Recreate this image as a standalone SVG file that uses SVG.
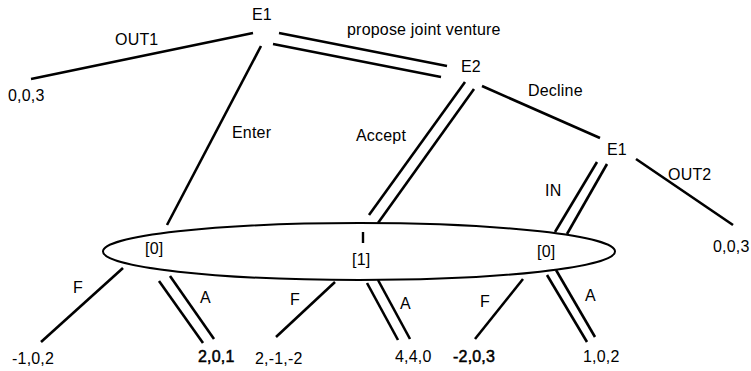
<svg xmlns="http://www.w3.org/2000/svg" width="751" height="371" viewBox="0 0 751 371">
<style>
text{font-family:"Liberation Sans",Arial,sans-serif;font-size:16px;fill:#000;letter-spacing:0.2px}
.b{stroke:#000;stroke-width:0.5}
.e{stroke:#000;stroke-width:2.6;fill:none;stroke-linecap:butt}
.tick{stroke:#000;stroke-width:2.4}
</style>
<rect width="751" height="371" fill="#fff"/>
<g id="connectors">
<line class="e" x1="253" y1="33" x2="31" y2="79"/>
<line class="e" x1="279" y1="33" x2="447" y2="66"/>
<line class="e" x1="273" y1="44" x2="441" y2="77"/>
<line class="e" x1="261" y1="46" x2="167" y2="225"/>
<line class="e" x1="465" y1="82" x2="369" y2="215"/>
<line class="e" x1="474" y1="89" x2="378" y2="223"/>
<line class="e" x1="482" y1="86" x2="600" y2="138"/>
<line class="e" x1="636" y1="159" x2="733" y2="225"/>
<line class="e" x1="597" y1="162" x2="555" y2="232"/>
<line class="e" x1="607" y1="164" x2="567" y2="234"/>
<line class="e" x1="123" y1="268" x2="41" y2="342"/>
<line class="e" x1="159" y1="281" x2="203" y2="343"/>
<line class="e" x1="170" y1="276" x2="214" y2="339"/>
<line class="e" x1="335" y1="282" x2="276" y2="337"/>
<line class="e" x1="367" y1="283" x2="398" y2="340"/>
<line class="e" x1="378" y1="280" x2="410" y2="339"/>
<line class="e" x1="523" y1="279" x2="475" y2="339"/>
<line class="e" x1="547" y1="275" x2="587" y2="342"/>
<line class="e" x1="556" y1="270" x2="595" y2="337"/>
<text x="115" y="45">OUT1</text>
<text x="347" y="35">propose joint venture</text>
<text x="232" y="138">Enter</text>
<text x="356" y="141">Accept</text>
<text x="528" y="96">Decline</text>
<text x="668" y="180">OUT2</text>
<text x="545" y="196">IN</text>
<text x="73" y="293">F</text>
<text x="200" y="303">A</text>
<text x="290" y="305">F</text>
<text x="400" y="309">A</text>
<text x="480" y="307">F</text>
<text x="585" y="301">A</text>
</g>
<g id="node-E1"><text x="252" y="20">E1</text></g>
<g id="node-E2"><text x="461" y="72">E2</text></g>
<g id="node-E1b"><text x="607" y="155">E1</text></g>
<g id="infoset">
<ellipse cx="359" cy="251.5" rx="256" ry="28.5" fill="none" stroke="#000" stroke-width="2"/>
<line class="tick" x1="363" y1="232" x2="363" y2="243"/>
<text x="145" y="254">[0]</text>
<text x="352" y="265">[1]</text>
<text x="537" y="257">[0]</text>
</g>
<g id="t-out1"><text x="8" y="101">0,0,3</text></g>
<g id="t-out2"><text x="713" y="252">0,0,3</text></g>
<g id="t1"><text x="12" y="364">-1,0,2</text></g>
<g id="t2"><text class="b" x="198" y="362">2,0,1</text></g>
<g id="t3"><text x="255" y="364">2,-1,-2</text></g>
<g id="t4"><text x="395" y="362">4,4,0</text></g>
<g id="t5"><text class="b" x="453" y="362">-2,0,3</text></g>
<g id="t6"><text x="583" y="362">1,0,2</text></g>
</svg>
